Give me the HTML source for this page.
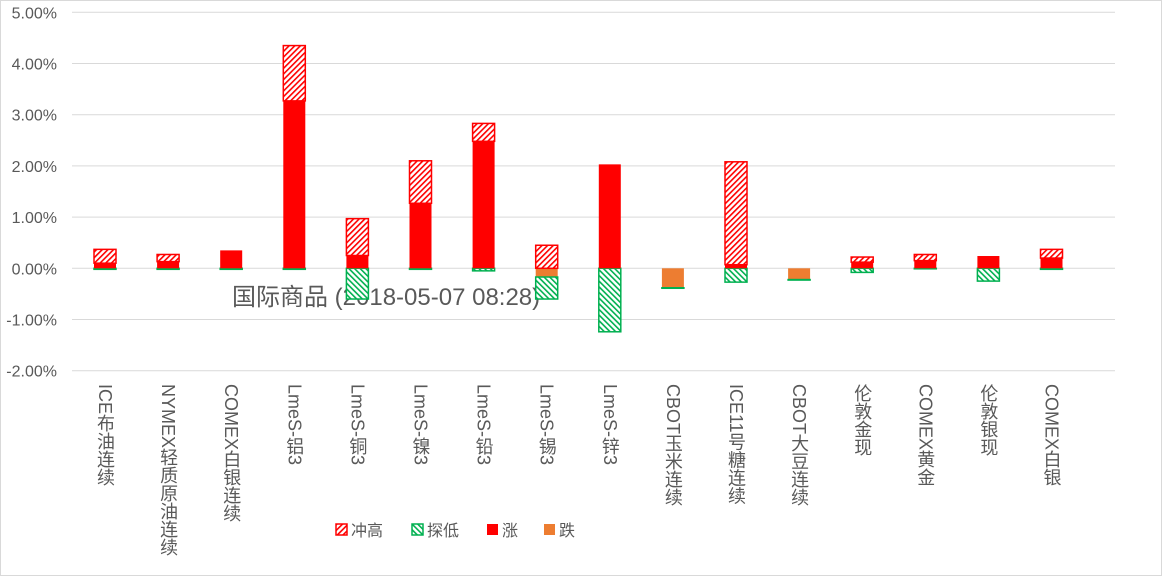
<!DOCTYPE html>
<html><head><meta charset="utf-8"><style>
body{margin:0;background:#fff;}
svg{display:block;font-family:"Liberation Sans","Noto Sans CJK SC",sans-serif;}
</style></head><body>
<svg id="chart" width="1162" height="576" viewBox="0 0 1162 576">
<defs>
<pattern id="hiPat" width="4" height="4" patternUnits="userSpaceOnUse" patternTransform="rotate(45)">
<rect width="4" height="4" fill="#fff"/><rect width="1.6" height="4" fill="#ff0000"/></pattern>
<pattern id="loPat" width="4" height="4" patternUnits="userSpaceOnUse" patternTransform="rotate(-45)">
<rect width="4" height="4" fill="#fff"/><rect width="1.6" height="4" fill="#00b050"/></pattern>
</defs>
<rect x="0.5" y="0.5" width="1161" height="575" fill="#fff" stroke="#d9d9d9"/>
<g id="grid"></g>
<text x="232" y="305" font-size="24" fill="#595959">国际商品 (2018-05-07 08:28)</text>
<g id="bars"></g><g id="xlabels"></g>
<g font-size="16" fill="#595959">
<g><rect x="336" y="524" width="11" height="11" fill="url(#hiPat)" stroke="#ff0000" stroke-width="1.5"/><text x="351" y="536">冲高</text></g>
<g><rect x="412" y="524" width="11" height="11" fill="url(#loPat)" stroke="#00b050" stroke-width="1.5"/><text x="427" y="536">探低</text></g>
<g><rect x="487" y="524" width="11" height="11" fill="#ff0000"/><text x="502" y="536">涨</text></g>
<g><rect x="544" y="524" width="11" height="11" fill="#ed7d31"/><text x="559" y="536">跌</text></g>
</g>
</svg>
<script>
const categories=["ICE布油连续","NYMEX轻质原油连续","COMEX白银连续","LmeS-铝3","LmeS-铜3","LmeS-镍3","LmeS-铅3","LmeS-锡3","LmeS-锌3","CBOT玉米连续","ICE11号糖连续","CBOT大豆连续","伦敦金现","COMEX黄金","伦敦银现","COMEX白银"];
const rise=[0.10,0.13,0.35,3.27,0.25,1.27,2.48,0,2.03,0,0.07,0,0.12,0.15,0.24,0.20];
const high=[0.27,0.14,0,1.08,0.72,0.83,0.35,0.45,0,0,2.01,0,0.10,0.12,0,0.17];
const fall=[0,0,0,0,0,0,0,0.17,0,0.38,0,0.22,0,0,0,0];
const low=[0.02,0.02,0.02,0.02,0.60,0.02,0.05,0.43,1.24,0.01,0.27,0.01,0.08,0.01,0.25,0.02];
const yTicks=[-2,-1,0,1,2,3,4,5];
const NS="http://www.w3.org/2000/svg";
const y=v=>268.3-v*51.2;
const x=i=>105+i*63.1;
const bw=22;
function mk(tag,attrs,parent){const e=document.createElementNS(NS,tag);for(const k in attrs)e.setAttribute(k,attrs[k]);parent.appendChild(e);return e;}
const grid=document.getElementById('grid');
yTicks.forEach(t=>{
  const l=mk('line',{x1:72,x2:1115,y1:y(t),y2:y(t),stroke:'#d9d9d9','stroke-width':1},grid);
  
  
  const tx=mk('text',{x:57,y:y(t)+6,'text-anchor':'end','font-size':16,fill:'#595959'},grid);
  
  
  tx.textContent=t.toFixed(2)+'%';
});
const bars=document.getElementById('bars');
function bar(i,v0,v1,fill,stroke,name){
  if(v1===v0)return;
  const top=Math.min(y(v0),y(v1)),h=Math.abs(y(v0)-y(v1));
  const a={x:x(i)-bw/2,y:top,width:bw,height:h,fill:fill};
  if(stroke){a.stroke=stroke;a['stroke-width']=1.5;}
  const r=mk('rect',a,bars);
  
  
}
categories.forEach((c,i)=>{
  bar(i,0,-fall[i],'#ed7d31',null,'bar-fall');
  bar(i,-fall[i],-fall[i]-low[i],'url(#loPat)','#00b050','bar-low');
  bar(i,0,rise[i],'#ff0000',null,'bar-rise');
  bar(i,rise[i],rise[i]+high[i],'url(#hiPat)','#ff0000','bar-high');
  const t=mk('text',{x:x(i),y:384,'font-size':18,fill:'#595959','writing-mode':'vertical-rl',style:'writing-mode:vertical-rl'},document.getElementById('xlabels'));
  
  
  t.textContent=c;
});
</script>
</body></html>
